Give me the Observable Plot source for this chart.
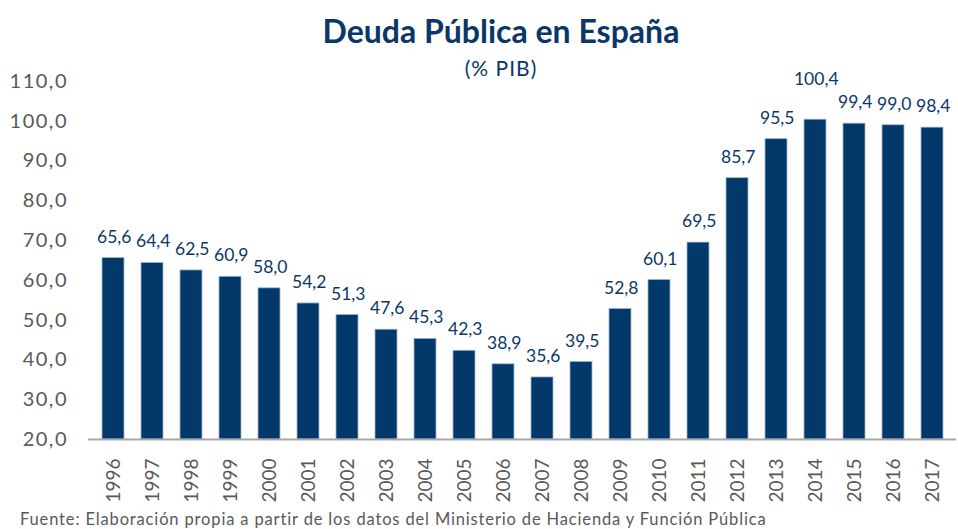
<!DOCTYPE html>
<html>
<head>
<meta charset="utf-8">
<script src="https://cdn.jsdelivr.net/npm/d3@7"></script>
<script src="https://cdn.jsdelivr.net/npm/@observablehq/plot@0.6"></script>
<style>
  html, body { margin: 0; padding: 0; background: #fff; }
  #wrap { position: relative; width: 958px; height: 529px; font-family: Lato, "Open Sans", sans-serif; }
  #title { position: absolute; left: 0; width: 1002px; top: 11px; text-align: center; font-size: 32px; font-weight: bold; color: #0B3768; }
  #subtitle { position: absolute; left: 0; width: 1002px; top: 55px; text-align: center; font-size: 21px; letter-spacing: 1px; color: #0B3768; }
  #caption { position: absolute; left: 20px; top: 509px; font-size: 16.5px; letter-spacing: 0.85px; color: #595959; white-space: nowrap; }
  #chart { position: absolute; left: 0; top: 0; }
  .vlab text { letter-spacing: 1.5px; }
  .ylab text { letter-spacing: 1.5px; }
</style>
</head>
<body>
<div id="wrap">
  <div id="chart"></div>
  <div id="title">Deuda Pública en España</div>
  <div id="subtitle">(% PIB)</div>
  <div id="caption">Fuente: Elaboración propia a partir de los datos del Ministerio de Hacienda y Función Pública</div>
</div>
<script>
const years = ["1996","1997","1998","1999","2000","2001","2002","2003","2004","2005","2006","2007","2008","2009","2010","2011","2012","2013","2014","2015","2016","2017"];
const deuda = [65.6,64.4,62.5,60.9,58.0,54.2,51.3,47.6,45.3,42.3,38.9,35.6,39.5,52.8,60.1,69.5,85.7,95.5,100.4,99.4,99.0,98.4];
const yTicks = [20,30,40,50,60,70,80,90,100,110];

const data = years.map((y, i) => ({year: y, value: deuda[i]}));
const fmt = v => v.toFixed(1).replace(".", ",");
const navy = "#03386A";

const chart = Plot.plot({
  width: 958,
  height: 529,
  marginTop: 81,
  marginBottom: 90,
  marginLeft: 88,
  marginRight: 2,
  style: {fontFamily: "Lato, 'Open Sans', sans-serif", background: "transparent"},
  x: {domain: years, paddingInner: 0.44, paddingOuter: 0.22, label: null, tickSize: 0},
  y: {domain: [20, 110], ticks: yTicks, label: null, tickSize: 0, tickFormat: fmt},
  marks: [
    Plot.ruleY(yTicks.filter(t => t > 20), {x1: 89, x2: 951, stroke: "#8EA9DB", strokeWidth: 1.5, strokeDasharray: "1.5,2.5"}),
    Plot.barY(data, {x: "year", y1: 20, y2: "value", fill: navy, stroke: "#9DB3D0", strokeWidth: 0.8}),
    Plot.ruleY([20], {stroke: "#A6A6A6", strokeWidth: 2}),
    Plot.text(data.filter(d => d.year !== "2014"), {x: "year", y: "value", text: d => fmt(d.value), dy: -21, dx: 0.75, fill: "#0B3768", fontSize: 17.5, ariaLabel: "vlab"}),
    Plot.text(data.filter(d => d.year === "2014"), {x: "year", y: "value", text: d => fmt(d.value), dy: -40, dx: 0.75, fill: "#0B3768", fontSize: 17.5, ariaLabel: "vlab"}),
    Plot.axisY({ticks: yTicks, tickFormat: fmt, tickSize: 0, tickPadding: 20.5, fontSize: 20, fill: "#595959", label: null}),
    Plot.axisX({tickSize: 0, tickRotate: -90, tickPadding: 19, fontSize: 19, fill: "#595959", label: null})
  ]
});
d3.select(chart).selectAll("g[aria-label='vlab']").classed("vlab", true);
d3.select(chart).selectAll("g[aria-label='y-axis tick label']").classed("ylab", true);
document.getElementById("chart").appendChild(chart);
</script>
</body>
</html>
